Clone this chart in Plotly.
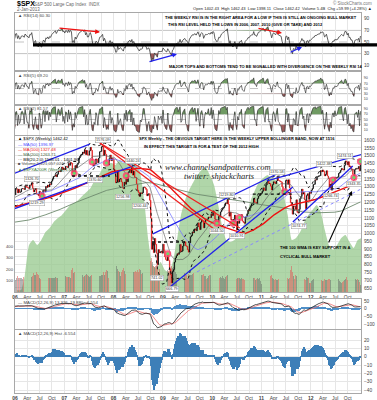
import numpy as np
import pandas as pd
import plotly.graph_objects as go

# ---------------- weekly closes of $SPX (Friday weeks) ----------------
c2002 = [1172,1146,1128,1133, 1122,1096,1104,1089, 1131,1164,1166,1148,1147, 1122,1111,1125,1076,
         1074,1097,1106,1084,1067, 1027,1007,990,990, 989,921,847,852, 864,908,928,940,916,
         893,889,846,827, 800,835,884,897, 900,894,909,930,936, 912,889,895,875]
c2003 = [909,927,901,861,856, 829,834,849,841, 829,833,895,863, 878,868,894,898, 930,933,945,933,964,
         988,998,995,976, 985,998,994,998, 980,977,990,993,1008, 1021,1018,1036,997,
         1029,1038,1039,1028,1051, 1058,1050,1035,1058, 1061,1074,1088,1095]
c2004 = [1108,1122,1140,1141,1131, 1142,1145,1144,1145, 1157,1120,1110,1108, 1141,1139,1134,1140,1107,
         1098,1096,1093,1121, 1123,1136,1135,1134, 1125,1112,1101,1086,1101, 1064,1064,1099,1107,
         1113,1123,1128,1110, 1131,1122,1108,1095,1130, 1166,1184,1170,1182, 1191,1189,1195,1210,1212]
c2005 = [1186,1184,1168,1171, 1203,1206,1201,1211, 1222,1201,1190,1172, 1172,1181,1143,1152,1157,
         1172,1154,1189,1198, 1197,1201,1217,1191, 1194,1212,1228,1234,1234, 1226,1237,1220,1205,
         1218,1241,1238,1215,1229, 1196,1187,1199,1198, 1220,1234,1248,1268, 1265,1259,1267,1268,1248]
c2006 = [1285,1287,1261,1284, 1264,1267,1287,1289, 1288,1282,1307,1302,1295, 1295,1289,1311,1310,
         1326,1291,1267,1280, 1288,1253,1252,1244,1270, 1265,1236,1240,1278, 1280,1266,1302,1296,
         1311,1299,1319,1314,1336, 1349,1366,1368,1377, 1364,1380,1401,1400, 1397,1409,1427,1410,1418]
c2007 = [1409,1431,1430,1423, 1449,1438,1456,1451, 1388,1402,1386,1436,1421, 1443,1453,1485,1495,
         1505,1506,1523,1515, 1537,1507,1533,1503,1503, 1531,1553,1534,1459, 1433,1453,1445,1479,1474,
         1454,1484,1525,1527, 1557,1562,1501,1535, 1509,1453,1458,1440,1481, 1504,1467,1484,1478]
c2008 = [1411,1401,1325,1330, 1396,1331,1349,1353,1331, 1294,1288,1330,1316, 1370,1332,1390,1398,
         1413,1388,1426,1375,1400, 1361,1360,1318,1278, 1263,1239,1261,1257, 1261,1297,1298,1292,1283,
         1242,1252,1255,1213, 1099,899,940,877,968, 930,873,800,896, 876,880,887,873]
c2009 = [931,890,850,832,826, 869,827,770,735, 683,756,768,816, 843,857,870,866, 878,929,882,887,919,
         940,946,921,918, 896,880,940,979,987, 1010,1005,1026,1029, 1017,1042,1068,1044,
         1025,1072,1087,1080,1036, 1069,1093,1091,1092, 1106,1102,1102,1126]
c2010 = [1115,1145,1136,1092,1074, 1066,1075,1109,1105, 1139,1150,1160,1167, 1179,1194,1192,1217,1187,
         1111,1136,1088,1089, 1065,1092,1118,1076, 1022,1078,1065,1102,1102, 1121,1079,1071,1065,
         1104,1110,1126,1148, 1146,1166,1177,1183,1183, 1225,1200,1200,1190, 1224,1240,1244,1257,1258]
c2011 = [1271,1293,1283,1276, 1311,1330,1343,1320, 1321,1304,1279,1314, 1332,1328,1320,1337,1364,
         1340,1338,1333,1331, 1300,1271,1272,1268, 1340,1344,1316,1345,1292, 1199,1179,1124,1177,
         1174,1154,1216,1136,1131, 1155,1224,1238,1285, 1253,1263,1216,1159, 1244,1255,1219,1265,1258]
c2012 = [1278,1289,1315,1316, 1345,1343,1362,1366, 1370,1371,1404,1397,1408, 1398,1370,1379,1403,
         1369,1353,1295,1318, 1278,1325,1343,1335,1362, 1355,1357,1363,1386, 1391,1406,1418,1411,1407,
         1438,1466,1460,1441, 1461,1429,1433,1412, 1414,1380,1359,1409,1416, 1418,1414,1430,1402]
c2013 = [1462.42]

# ---------------- weekly volume (left scale of price panel) ----------------
v2006 = [105,120,135,125, 120,118,125,110, 130,122,128,118,115, 112,118,125,120, 130,140,165,145,
         150,170,160,150,120, 115,145,130,125, 110,118,112,100, 105,120,118,125,122,
         120,125,118,130, 125,120,130,105, 118,122,135,110,85]
v2007 = [120,135,130,128, 132,130,118,190, 210,165,170,140,130, 125,128,140,135, 140,138,145,130,
         135,150,160,145,140, 130,135,150,180, 210,230,200,140,135, 150,160,140,135,
         145,150,170,145, 175,195,180,120,160, 150,165,140,90]
v2008 = [130,190,220,230, 200,180,170,140,175, 190,210,185,160, 170,165,175,160, 165,155,150,120,170,
         175,180,170,190, 175,200,195,160, 165,150,140,125,120, 160,180,190,260,
         270,300,260,230,220, 230,240,260,150, 200,190,180,90]
v2009 = [120,200,210,190,200, 190,180,200,210, 230,210,220,190, 170,160,170,180, 180,200,175,160,150,
         170,165,160,150, 110,160,150,145,150, 155,165,160,150, 120,145,160,130,
         140,150,145,150,160, 140,135,110,120, 140,145,150,80]
v2010 = [70,135,130,160,170, 165,140,120,125, 130,125,135,125, 110,130,140,150,150, 210,170,180,130,
         140,145,120,130, 110,125,120,125,115, 120,110,115,105, 90,110,115,110,
         110,120,115,110,115, 120,125,105,110, 120,115,120,90,70]
v2011 = [115,120,125,130, 120,115,110,130, 125,135,150,120, 110,105,115,100,105, 115,110,115,105,
         120,125,120,130, 95,110,120,115,125, 190,230,170,140, 110,150,140,135,150,
         140,130,120,130, 125,120,115,100, 130,125,120,80,75]
v2012 = [95,105,110,115, 110,105,100,95, 105,110,120,100,95, 90,110,105,105, 100,110,115,105,
         105,100,105,115,105, 85,95,95,110, 95,85,80,85,90, 100,115,130,100,
         100,105,100,95, 100,120,115,80,110, 105,115,100,85]
v2013 = [60]

# ---------------- green overlay area (monthly, read on the price scale) ----------------
green_area = [637,637,733,926,958,926,958,1009,1035,1074,1099,1119,
              1151,1183,1196,1215,1241,1266,1292,1343,1375,1420,1440,1452,
              1440,1472,1452,1484,1459,1440,1395,1215,958,798,778,817,
              766,753,817,958,1119,1215,1279,1330,1375,1407,1420,1375,
              1311,1183,1054,958,945,958,990,1035,1119,1215,1279,1330,
              1356,1375,1356,1343,1311,1247,1119,958,971,1009,1074,1119,
              1151,1183,1138,1022,926,894,926,971,990,945,907,958,971]

# ---------------- drawn annotations on the price panel (date, price) ----------------
blue_lines = [(("2005-09-11", 1350), ("2007-07-09", 1574)),
              (("2005-09-11", 1125), ("2008-05-24", 1433)),
              (("2008-10-19", 997), ("2011-04-25", 1382)),
              (("2011-02-10", 1337), ("2013-01-22", 1510)),
              (("2009-02-22", 656), ("2011-08-22", 1298)),
              (("2011-08-22", 1074), ("2012-11-08", 1433))]
red_lines = [(("2007-09-22", 1581), ("2010-02-13", 1009)),
             (("2007-09-22", 1581), ("2010-07-25", 1035))]
light_lines = [(("2009-09-10", 753), ("2013-05-06", 1337))]
dotted_levels = [("2007-02-27", "2007-12-05", 1369), ("2008-10-12", "2009-07-19", 945),
                 ("2010-10-29", "2011-08-22", 1253)]
highlight_weeks = ["2006-07-21", "2007-03-16", "2007-07-27", "2007-11-09", "2008-04-04", "2009-02-06",
                   "2010-02-05", "2010-06-04", "2010-07-23", "2011-06-24", "2012-06-15", "2012-11-16",
                   "2013-01-04"]

price_labels = [("2006-05-05", 1326.70, 1), ("2006-06-16", 1219.29, -1), ("2007-10-12", 1576.09, 1),
                ("2007-08-17", 1370.60, -1), ("2008-03-14", 1256.98, -1), ("2008-05-23", 1440.24, 1),
                ("2008-07-18", 1200.44, -1), ("2008-11-21", 741.02, -1), ("2009-03-06", 666.79, -1),
                ("2010-02-05", 1044.50, -1), ("2010-04-23", 1219.80, 1), ("2010-07-02", 1010.91, -1),
                ("2011-04-29", 1370.58, 1), ("2011-10-07", 1074.77, -1), ("2012-04-06", 1422.38, 1),
                ("2012-06-01", 1266.74, -1), ("2012-09-14", 1474.51, 1), ("2012-11-16", 1343.35, -1)]

# ---------------- assemble ----------------
years_c = [c2002, c2003, c2004, c2005, c2006, c2007, c2008, c2009, c2010, c2011, c2012, c2013]
closes = np.array(sum(years_c, []), dtype=float)
vols = np.array(sum([v2006, v2007, v2008, v2009, v2010, v2011, v2012, v2013], []), dtype=float)
dates = pd.date_range(end="2013-01-04", periods=len(closes), freq="W-FRI")
i0 = len(c2002) + len(c2003) + len(c2004) + len(c2005)


def sma(a, n):
    out = np.full(a.shape, np.nan)
    cs = np.cumsum(np.insert(a, 0, 0.0))
    out[n - 1:] = (cs[n:] - cs[:-n]) / n
    return out


def ema(a, n):
    k = 2.0 / (n + 1)
    out = np.empty_like(a)
    out[0] = a[0]
    for i in range(1, len(a)):
        out[i] = a[i] * k + out[i - 1] * (1 - k)
    return out


def rsi(a, n):
    d = np.diff(a)
    up = np.where(d > 0, d, 0.0)
    dn = np.where(d < 0, -d, 0.0)
    out = np.full(a.shape, np.nan)
    au, ad = up[:n].mean(), dn[:n].mean()
    out[n] = 100 - 100 / (1 + au / ad) if ad > 0 else 100
    for i in range(n + 1, len(a)):
        au = (au * (n - 1) + up[i - 1]) / n
        ad = (ad * (n - 1) + dn[i - 1]) / n
        out[i] = 100.0 if ad == 0 else 100 - 100 / (1 + au / ad)
    return out


ma50, ma100, ma200 = sma(closes, 50), sma(closes, 100), sma(closes, 200)
mid20 = sma(closes, 20)
sd20 = pd.Series(closes).rolling(20).std(ddof=0).values
bb_up, bb_dn = mid20 + 2 * sd20, mid20 - 2 * sd20
rsi14, rsi5, rsi2 = rsi(closes, 14), rsi(closes, 5), rsi(closes, 2)
macd = ema(closes, 12) - ema(closes, 26)
signal = ema(macd, 9)
hist = macd - signal

s = slice(i0 - 1, None)
D = dates[s]
Dc = dates[i0:]
prev = closes[i0 - 1:-1]
cur = closes[i0:]
close_by_date = pd.Series(closes, index=dates)

W, H, L, R = 377, 400, 15, 16
def px(x):
    return (x - L) / (W - L - R)
def py(y):
    return 1 - y / H
def dom(top, bot):
    return [1 - bot / H, 1 - top / H]

FONT = "Liberation Sans, Arial, sans-serif"
PR = [624, 1626]
fig = go.Figure()

# ---- RSI panels ----
def rsi_panel(r, xa, ya, lw=0.8):
    rr = r[s]
    fig.add_trace(go.Scatter(x=D, y=np.full(len(rr), 70.0), mode="lines", line=dict(width=0),
                             xaxis=xa, yaxis=ya, hoverinfo="skip", showlegend=False))
    fig.add_trace(go.Scatter(x=D, y=np.maximum(rr, 70), mode="lines", line=dict(width=0), fill="tonexty",
                             fillcolor="#6f9a62", xaxis=xa, yaxis=ya, hoverinfo="skip", showlegend=False))
    fig.add_trace(go.Scatter(x=D, y=np.full(len(rr), 30.0), mode="lines", line=dict(width=0),
                             xaxis=xa, yaxis=ya, hoverinfo="skip", showlegend=False))
    fig.add_trace(go.Scatter(x=D, y=np.minimum(rr, 30), mode="lines", line=dict(width=0), fill="tonexty",
                             fillcolor="#9c5a5a", xaxis=xa, yaxis=ya, hoverinfo="skip", showlegend=False))
    fig.add_trace(go.Scatter(x=D, y=rr, mode="lines", line=dict(color="#3a3a3a", width=lw),
                             xaxis=xa, yaxis=ya, hoverinfo="skip", showlegend=False))

rsi_panel(rsi14, "x", "y")
rsi_panel(rsi5, "x2", "y2", 0.7)
rsi_panel(rsi2, "x3", "y3", 0.7)

# ---- main panel ----
gdates = pd.date_range("2006-01-01", periods=len(green_area), freq="MS") + pd.Timedelta(days=14)
fig.add_trace(go.Scatter(x=gdates, y=green_area, mode="lines", line=dict(width=0, shape="spline", smoothing=0.5),
                         fill="tozeroy", fillcolor="rgba(150,200,140,0.75)", xaxis="x4", yaxis="y4",
                         hoverinfo="skip", showlegend=False))
vcol = np.where(cur < prev, "rgba(225,90,90,0.55)", "rgba(90,90,90,0.45)")
fig.add_trace(go.Bar(x=Dc, y=vols, marker=dict(color=vcol, line=dict(width=0)), width=4 * 86400000,
                     xaxis="x4", yaxis="y7", hoverinfo="skip", showlegend=False))
fig.add_trace(go.Scatter(x=D, y=ma200[s], mode="lines", line=dict(color="#6e8a6e", width=0.9),
                         xaxis="x4", yaxis="y8", hoverinfo="skip", showlegend=False))
fig.add_trace(go.Scatter(x=D, y=ma50[s], mode="lines", line=dict(color="#7b7bff", width=0.8),
                         xaxis="x4", yaxis="y8", hoverinfo="skip", showlegend=False))
fig.add_trace(go.Scatter(x=D, y=mid20[s], mode="lines", line=dict(color="#555555", width=0.6),
                         xaxis="x4", yaxis="y8", hoverinfo="skip", showlegend=False))
for band in (bb_up, bb_dn):
    fig.add_trace(go.Scatter(x=D, y=band[s], mode="lines", line=dict(color="#111111", width=1, dash="dot"),
                             xaxis="x4", yaxis="y8", hoverinfo="skip", showlegend=False))
fig.add_trace(go.Scatter(x=D, y=ma100[s], mode="lines", line=dict(color="#ee1111", width=1.4),
                         xaxis="x4", yaxis="y8", hoverinfo="skip", showlegend=False))
hl = pd.to_datetime(highlight_weeks)
fig.add_trace(go.Scatter(x=hl, y=close_by_date.reindex(hl).values, mode="markers",
                         marker=dict(size=7, color="rgba(255,70,110,0.85)", line=dict(width=0)),
                         xaxis="x4", yaxis="y8", hoverinfo="skip", showlegend=False))
fig.add_trace(go.Candlestick(x=Dc, open=prev, close=cur, high=np.maximum(prev, cur), low=np.minimum(prev, cur),
                             increasing=dict(line=dict(color="#000000", width=0.6), fillcolor="#000000"),
                             decreasing=dict(line=dict(color="#e01010", width=0.6), fillcolor="#e01010"),
                             whiskerwidth=0, xaxis="x4", yaxis="y8", hoverinfo="skip", showlegend=False))
fig.add_trace(go.Scatter(x=hl, y=close_by_date.reindex(hl).values, mode="markers",
                         marker=dict(size=3, color="#66dd66", line=dict(width=0)),
                         xaxis="x4", yaxis="y8", hoverinfo="skip", showlegend=False))

# ---- MACD panels ----
fig.add_trace(go.Bar(x=D, y=hist[s], marker=dict(color="#4f8fc8", line=dict(width=0)), width=7 * 86400000,
                     xaxis="x5", yaxis="y5", hoverinfo="skip", showlegend=False))
fig.add_trace(go.Scatter(x=D, y=signal[s], mode="lines", line=dict(color="#f07070", width=0.8),
                         xaxis="x5", yaxis="y5", hoverinfo="skip", showlegend=False))
fig.add_trace(go.Scatter(x=D, y=macd[s], mode="lines", line=dict(color="#222222", width=0.8),
                         xaxis="x5", yaxis="y5", hoverinfo="skip", showlegend=False))
fig.add_trace(go.Bar(x=D, y=hist[s], marker=dict(color="#3d7fb8", line=dict(width=0)), width=7 * 86400000,
                     xaxis="x6", yaxis="y6", hoverinfo="skip", showlegend=False))

# ---- axes ----
qdates = pd.date_range("2006-01-01", "2012-10-01", freq="QS")
qtext = [("<b>%02d</b>" % (d.year % 100)) if d.month == 1 else d.strftime("%b") for d in qdates]
xr = ["2006-01-01", "2013-01-08"]
common_x = dict(range=xr, tickvals=qdates, ticktext=qtext, showgrid=True, gridcolor="#e6e6e6", gridwidth=1,
                showline=True, mirror=True, linecolor="#a8a8a8", linewidth=1, ticks="", zeroline=False,
                tickfont=dict(size=5, color="#444", family=FONT), type="date")
panels = {"": dom(13, 71), "2": dom(71, 105), "3": dom(105, 135), "4": dom(136, 292),
          "5": dom(299, 329), "6": dom(330, 393)}
layout = {}
for k, dm in panels.items():
    xa = dict(common_x, domain=[0, 1], anchor="y" + k, showticklabels=(k in ("4", "6")))
    if k != "":
        xa["matches"] = "x"
    layout["xaxis" + k] = xa
TF = dict(size=4.8, color="#444", family=FONT)
common_y = dict(side="right", showgrid=False, showline=True, mirror=True, linecolor="#a8a8a8", linewidth=1,
                ticks="", zeroline=False, tickfont=TF, ticklabelstandoff=1)
layout["yaxis"] = dict(common_y, domain=panels[""], anchor="x", range=[0, 100], tickvals=[10, 30, 50, 70, 90])
layout["yaxis2"] = dict(common_y, domain=panels["2"], anchor="x2", range=[-14, 118], tickvals=[10, 30, 50, 70, 90],
                        tickfont=dict(size=3.6, color="#444", family=FONT))
layout["yaxis3"] = dict(common_y, domain=panels["3"], anchor="x3", range=[-9, 105], tickvals=[10, 30, 50, 70, 90],
                        tickfont=dict(size=3.6, color="#444", family=FONT))
layout["yaxis4"] = dict(common_y, domain=panels["4"], anchor="x4", range=PR,
                        tickvals=list(range(650, 1601, 50)), showgrid=True, gridcolor="#e6e6e6")
layout["yaxis5"] = dict(common_y, domain=panels["5"], anchor="x5", range=[-133, 63], tickvals=[50, 0, -50, -100])
layout["yaxis6"] = dict(common_y, domain=panels["6"], anchor="x6", range=[-43.6, 32],
                        tickvals=[20, 10, 0, -10, -20, -30, -40], showgrid=True, gridcolor="#e6e6e6")
layout["yaxis7"] = dict(overlaying="y4", anchor="x4", side="left", range=[-4, 1385], tickvals=[100, 200, 300, 400],
                        showgrid=False, zeroline=False, ticks="", showline=False, ticklabelstandoff=1,
                        tickfont=dict(size=4.2, color="#444", family=FONT))
layout["yaxis8"] = dict(overlaying="y4", anchor="x4", side="right", range=PR, showticklabels=False,
                        showgrid=False, zeroline=False, ticks="", showline=False)
layout["xaxis4"]["rangeslider"] = dict(visible=False)

shapes = []
for ya, lv in (("y", 70), ("y", 30), ("y2", 70), ("y2", 30), ("y3", 70), ("y3", 30)):
    shapes.append(dict(type="line", xref="paper", x0=0, x1=1, yref=ya, y0=lv, y1=lv,
                       line=dict(color="#9a9a9a", width=0.6), layer="below"))
for ya in ("y", "y2", "y3"):
    shapes.append(dict(type="line", xref="paper", x0=0, x1=1, yref=ya, y0=50, y1=50,
                       line=dict(color="#9a9a9a", width=0.6, dash="dash"), layer="below"))
shapes.append(dict(type="line", xref="paper", x0=px(33), x1=px(377), yref="y", y0=45, y1=45,
                   line=dict(color="#000000", width=3.2)))
for (p0, p1) in blue_lines:
    shapes.append(dict(type="line", xref="x4", yref="y8", x0=p0[0], y0=p0[1], x1=p1[0], y1=p1[1],
                       line=dict(color="#2020e8", width=1.3)))
for (p0, p1) in red_lines:
    shapes.append(dict(type="line", xref="x4", yref="y8", x0=p0[0], y0=p0[1], x1=p1[0], y1=p1[1],
                       line=dict(color="#ee2020", width=1.3)))
for (p0, p1) in light_lines:
    shapes.append(dict(type="line", xref="x4", yref="y8", x0=p0[0], y0=p0[1], x1=p1[0], y1=p1[1],
                       line=dict(color="#8888ff", width=1, dash="dot")))
for (d0, d1, lv) in dotted_levels:
    shapes.append(dict(type="line", xref="x4", yref="y8", x0=d0, y0=lv, x1=d1, y1=lv,
                       line=dict(color="#111111", width=1.3, dash="dot")))

ann = []
def txt(x, y, t, size=4, color="#000", bold=False, anchor="left", family=FONT, italic=False):
    if bold:
        t = "<b>" + t + "</b>"
    if italic:
        t = "<i>" + t + "</i>"
    ann.append(dict(x=px(x), y=py(y), xref="paper", yref="paper", text=t, showarrow=False, xanchor=anchor,
                    yanchor="middle", font=dict(size=size, color=color, family=family)))

txt(15, 4, "$SPX", 7, bold=True)
txt(32, 4, "S&P 500 Large Cap Index  INDX", 4.5, "#666")
txt(15, 9.5, "2-Jan-2013", 4.5, "#666")
txt(374, 3, "© StockCharts.com", 4.5, "#777", anchor="right")
txt(374, 9, "Open 1402.43  High 1462.43  Low 1398.11  Close 1462.42  Volume 5.4B  Chg +59.99 (+4.28%) ▲",
    4.1, "#222", anchor="right")
txt(16, 15.5, "▲ RSI(14) 60.30", 4.3, "#444")
txt(16, 75, "▲ RSI(5) 69.20", 4.3, "#444")
txt(16, 108.5, "▲ RSI(2) 81.57", 4.3, "#444")
txt(16, 302, "— MACD(12,26,9) 13.326, 19.880, -6.554", 4.3, "#444")
txt(16, 333, "▲ MACD(12,26,9) Hist -6.554", 4.3, "#444")
leg = [("▲ $SPX (Weekly) 1462.42", "#000"), ("— MA(50) 1396.97", "#4444ff"), ("— MA(100) 1327.48", "#ee1111"),
       ("— MA(200) 1263.71", "#446644"), ("··· BB(20,2.0) 1505.01 - 1401.96", "#000"),
       ("■ Volume 5,421,057,024", "#555"), ("▲ $SPXA200R (Weekly) 1313", "#3a7a3a")]
for i, (t, c) in enumerate(leg):
    txt(16, 139 + i * 5.0, t, 4.2, c)
txt(163, 17.5, "THE WEEKLY RSI IS IN THE RIGHT AREA FOR A LOW IF THIS IS STILL AN ONGOING BULL MARKET", 4, bold=True)
txt(166, 24, "THIS RSI LEVEL HELD THE LOWS IN 2006, 2007, 2010 (GIVE OR TAKE) AND 2012", 4, bold=True)
txt(167, 66, "MAJOR TOPS AND BOTTOMS TEND TO BE SIGNALLED WITH DIVERGENCE ON THE WEEKLY RSI 14", 4, bold=True)
txt(137, 139, "SPX Weekly - THE OBVIOUS TARGET HERE IS THE WEEKLY UPPER BOLLINGER BAND, NOW AT 1516", 4, bold=True)
txt(142, 146, "IN EFFECT THIS TARGET IS FOR A TEST OF THE 2012 HIGH", 4, bold=True)
txt(163, 167, "www.channelsandpatterns.com", 8.5, "#222", italic=True, family="Liberation Serif, serif")
txt(182, 176, "twitter: shjackcharts", 8.5, "#222", italic=True, family="Liberation Serif, serif")
txt(278, 247, "THE 100 WMA IS KEY SUPPORT IN A", 4, bold=True)
txt(278, 256, "CYCLICAL BULL MARKET", 4, bold=True)

def arrow(x0, y0, x1, y1, color, width=1.2):
    ann.append(dict(x=px(x1), y=py(y1), ax=x0 - x1, ay=y0 - y1, xref="paper", yref="paper", axref="pixel",
                    ayref="pixel", showarrow=True, arrowhead=2, arrowsize=0.8, arrowwidth=width,
                    arrowcolor=color, text=""))
arrow(58, 28, 100, 32, "#ee1111")
arrow(257, 28, 282, 33, "#ee1111")
arrow(148, 62, 177, 54, "#2020ee")
arrow(289, 53, 302, 47, "#2020ee")
arrow(328, 244, 352, 191, "#000000", 1.1)

for d, v, side in price_labels:
    ann.append(dict(x=d, y=v, xref="x4", yref="y8", text="%.2f" % v, showarrow=False,
                    yshift=4 * side, font=dict(size=3.8, color="#333", family=FONT), bgcolor="#ffffff",
                    bordercolor="#999", borderwidth=0.5, borderpad=0.5))

fig.update_layout(width=W, height=H, margin=dict(l=L, r=R, t=0, b=0), paper_bgcolor="white",
                  plot_bgcolor="white", showlegend=False, bargap=0, barmode="overlay",
                  shapes=shapes, annotations=ann, font=dict(family=FONT), **layout)
fig.write_html("out.html", config={"displayModeBar": False},
               post_script="document.body.style.margin='0';document.body.style.overflow='hidden';")
